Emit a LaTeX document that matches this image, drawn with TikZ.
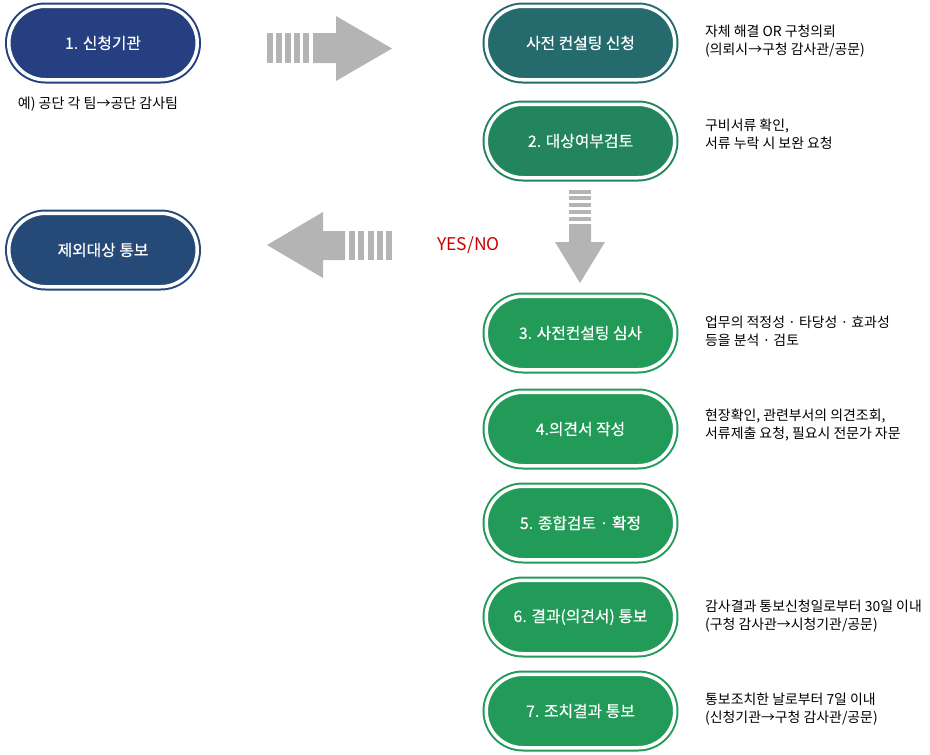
\documentclass[tikz,border=0pt]{standalone}
\usepackage{fontspec}
\setmainfont{Noto Sans CJK KR}
\newfontfamily\pillfont{Noto Sans CJK KR}[FakeBold=0.5]
\usetikzlibrary{shapes.misc,positioning}

\definecolor{navyA}{HTML}{253F80}
\definecolor{navyB}{HTML}{264A78}
\definecolor{tealA}{HTML}{256A6C}
\definecolor{greenA}{HTML}{22855E}
\definecolor{greenB}{HTML}{229A58}
\definecolor{arrowgray}{HTML}{B4B4B4}
\definecolor{yesred}{HTML}{CC0000}

\tikzset{
  pill/.style={rounded rectangle, draw=#1, fill=#1, line width=2pt, double=white,
    double distance=3.5pt, minimum width=188.5pt, minimum height=73.5pt,
    inner sep=0pt, text=white, font=\pillfont\fontsize{15.8}{18}\selectfont},
  note/.style={anchor=west, align=left, inner sep=0pt, font=\fontsize{13.9}{18}\selectfont},
}

\begin{document}
\begin{tikzpicture}[x=1pt, y=-1pt]
  \useasboundingbox (0,0) rectangle (930,755);

  % left column
  \node[pill=navyA] (org) at (103,43) {1. 신청기관};
  \node[inner sep=0pt, font=\fontsize{14}{18}\selectfont] (orgnote) at (98,104) {예) 공단 각 팀→공단 감사팀};
  \node[pill=navyB] (excl) at (103,250) {제외대상 통보};

  % right column
  \node[pill=tealA] (req) at (580.5,43) {사전 컨설팅 신청};
  \node[pill=greenA, below of=req, node distance=98pt] (check) {2. 대상여부검토};
  \node[pill=greenB, below of=check, node distance=192pt] (review) {3. 사전컨설팅 심사};
  \node[pill=greenB, below of=review, node distance=96pt] (opinion) {4.의견서 작성};
  \node[pill=greenB, below of=opinion, node distance=94pt] (confirm) {5. 종합검토 · 확정};
  \node[pill=greenB, below of=confirm, node distance=94pt] (notify) {6. 결과(의견서) 통보};
  \node[pill=greenB, below of=notify, node distance=94pt] (action) {7. 조치결과 통보};

  % notes
  \node[note] (reqnote) at (705,41) {자체 해결 OR 구청의뢰\\(의뢰시→구청 감사관/공문)};
  \node[note] (checknote) at (705,134) {구비서류 확인,\\서류 누락 시 보완 요청};
  \node[note] (reviewnote) at (705,331) {업무의 적정성 · 타당성 · 효과성\\등을 분석 · 검토};
  \node[note] (opinionnote) at (705,425) {현장확인, 관련부서의 의견조회,\\서류제출 요청, 필요시 전문가 자문};
  \node[note] (notifynote) at (705,616) {감사결과 통보신청일로부터 30일 이내\\(구청 감사관→시청기관/공문)};
  \node[note] (actionnote) at (705,709) {통보조치한 날로부터 7일 이내\\(신청기관→구청 감사관/공문)};

  \node[text=yesred, font=\fontsize{17.5}{20}\selectfont] (yesno) at (468.5,245) {YES/NO};

  % block arrows
  \foreach \x in {267,276,285,294,303}
    \fill[arrowgray] (\x,33) rectangle ++(6,30);
  \fill[arrowgray] (313,33) -- (336,33) -- (336,16) -- (392,48.5) -- (336,81) -- (336,63) -- (313,63) -- cycle;

  \foreach \x in {349,358,367.5,377,386}
    \fill[arrowgray] (\x,231) rectangle ++(6,29);
  \fill[arrowgray] (345,231) -- (323,231) -- (323,212) -- (267,245) -- (323,278) -- (323,260) -- (345,260) -- cycle;

  \foreach \y in {189.5,196.3,203.1,209.9,216.7}
    \fill[arrowgray] (569,\y) rectangle ++(22,4);
  \fill[arrowgray] (569,224) -- (591,224) -- (591,242) -- (605,242) -- (580,283) -- (555,242) -- (569,242) -- cycle;
\end{tikzpicture}
\end{document}
